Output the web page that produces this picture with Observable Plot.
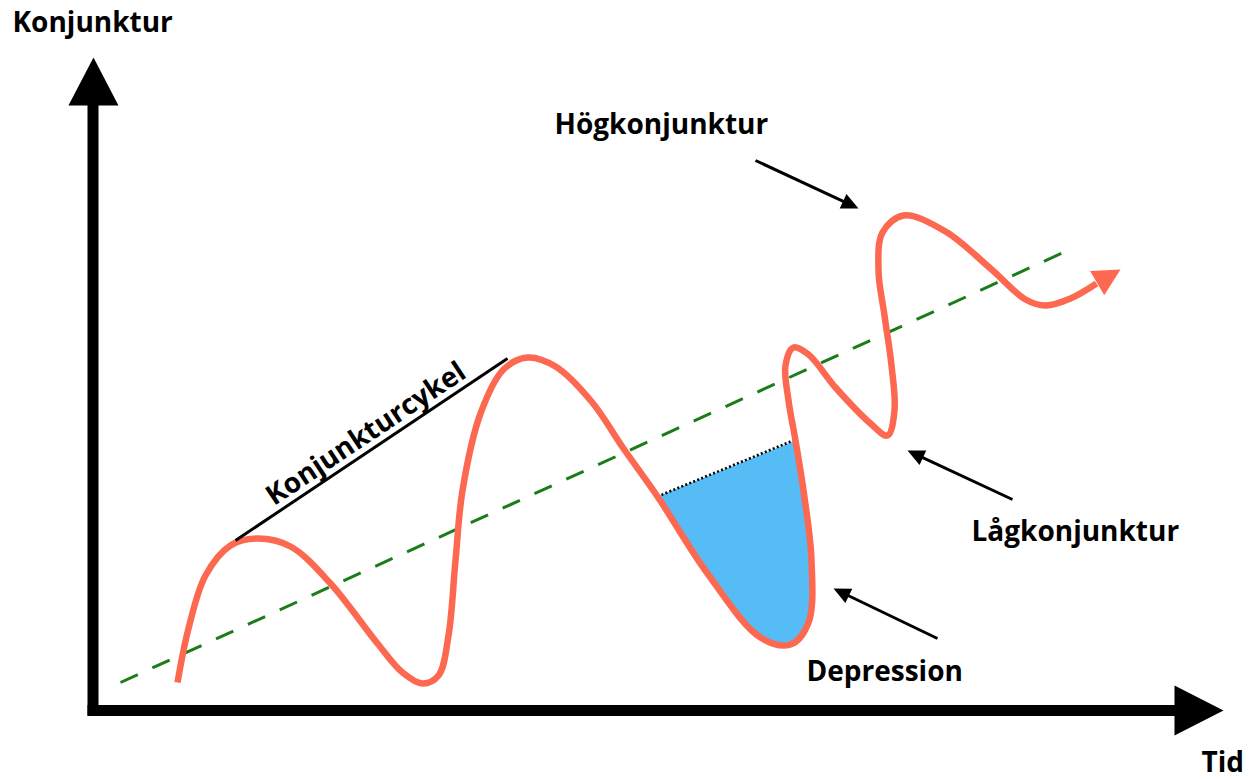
<!DOCTYPE html>
<html><head><meta charset="utf-8">
<script src="https://cdn.jsdelivr.net/npm/d3@7"></script>
<script src="https://cdn.jsdelivr.net/npm/@observablehq/plot@0.6"></script>
<style>html,body{margin:0;padding:0;background:#fff;}</style>
</head><body><div id="chart"></div>
<script>
// Business-cycle curve (diagram units: x to the right, y downward)
const curveX = [177,188,205,230,257,290,330,377,402,422,438,448,455,462,480,503,527,555,591,623,657,707,760,790,808,811,803,795,788,785,793,808,835,870,887,894,891,884,878,882,903,945,990,1025,1045,1070,1096];
const curveY = [682,628,575,545,538,546,583,643,672,683,675,635,560,490,413,369,357,366,401,448,496,573,637,644,622,560,490,440,400,365,347,354,387,423,435,410,365,315,270,232,215,231,268,299,305,298,283];
const curveTip = [1120,269];
// Depression region (part of the curve)
const depressionX = [657,707,760,790,808,811,803,795];
const depressionY = [496,573,637,644,622,560,490,440];
// Trend line
const trendX = [120,1065];
const trendY = [682,251];
// Cycle bracket line and dotted line
const cycleX = [235,507];
const cycleY = [540,358];
const dotX = [657,795];
const dotY = [496,439];
// Axes
const yAxisX = [92.5,92.5], yAxisY = [715,100], yAxisTip = [93,57];
const xAxisX = [87,1178], xAxisY = [710,710], xAxisTip = [1223,710];
// Labels
const labels = ["Konjunktur","Tid","Högkonjunktur","Lågkonjunktur","Depression"];
const labelX = [12,1201,554,971,806];
const labelY = [23,763,125,532,672];
const cycleLabel = "Konjunkturcykel";
// Annotation arrows
const arrowFromX = [755,1012,937], arrowFromY = [160,499,638];
const arrowToX = [858,907,833], arrowToY = [208,450,588];

const RED = "#fd6850", BLUE = "#56bcf6", GREEN = "#1a7d1a";
const FONT = "Open Sans";
const FS = 28;

function tri(id, tx, ty, fx, fy, len, hw) {
  const dx = tx - fx, dy = ty - fy, d = Math.hypot(dx, dy), ux = dx / d, uy = dy / d;
  const bx = tx - ux * len, by = ty - uy * len;
  return [{id, x: tx, y: ty}, {id, x: bx - uy * hw, y: by + ux * hw}, {id, x: bx + uy * hw, y: by - ux * hw}];
}
const pts = (X, Y) => X.map((x, i) => ({x, y: Y[i]}));

const curve = pts(curveX, curveY);
const last = curve[curve.length - 1];
const heads = [
  ...tri("ya", yAxisTip[0], yAxisTip[1], yAxisX[0], yAxisY[0], 48, 25),
  ...tri("xa", xAxisTip[0], xAxisTip[1], xAxisX[0], xAxisY[0], 49, 25),
  ...tri("red", curveTip[0], curveTip[1], last.x, last.y, 27, 14),
  ...arrowToX.flatMap((x, i) => tri("a" + i, x, arrowToY[i], arrowFromX[i], arrowFromY[i], 17, 8))
];
const shafts = arrowToX.map((x, i) => {
  const dx = x - arrowFromX[i], dy = arrowToY[i] - arrowFromY[i], d = Math.hypot(dx, dy);
  return {x1: arrowFromX[i], y1: arrowFromY[i], x2: x - dx / d * 15, y2: arrowToY[i] - dy / d * 15};
});
// rotated label along the cycle line
const ang = Math.atan2(cycleY[1] - cycleY[0], cycleX[1] - cycleX[0]);
const mx = (cycleX[0] + cycleX[1]) / 2, my = (cycleY[0] + cycleY[1]) / 2;
const off = 16, along = 4;
const cyc = [{x: mx + Math.sin(ang) * off + Math.cos(ang) * along, y: my - Math.cos(ang) * off + Math.sin(ang) * along, t: cycleLabel}];

const chart = Plot.plot({
  width: 1249, height: 779, margin: 0,
  x: {domain: [0, 1249], axis: null},
  y: {domain: [0, 779], reverse: true, axis: null},
  style: {background: "#fff", overflow: "visible"},
  marks: [
    Plot.line(pts(depressionX, depressionY), {x: "x", y: "y", fill: BLUE, stroke: "none", curve: "catmull-rom"}),
    Plot.line(pts(dotX, dotY), {x: "x", y: "y", stroke: "#000", strokeWidth: 2.6, strokeDasharray: "2,2.3", strokeLinecap: "butt"}),
    Plot.line(pts(trendX, trendY), {x: "x", y: "y", stroke: GREEN, strokeWidth: 3, strokeDasharray: "19,16", strokeLinecap: "butt"}),
    Plot.line(curve, {x: "x", y: "y", stroke: RED, strokeWidth: 6.5, curve: "catmull-rom", strokeLinecap: "butt"}),
    Plot.line(pts(cycleX, cycleY), {x: "x", y: "y", stroke: "#000", strokeWidth: 3, strokeLinecap: "butt"}),
    Plot.link(shafts, {x1: "x1", y1: "y1", x2: "x2", y2: "y2", stroke: "#000", strokeWidth: 3}),
    Plot.line(pts(yAxisX, yAxisY), {x: "x", y: "y", stroke: "#000", strokeWidth: 11, strokeLinecap: "butt"}),
    Plot.line(pts(xAxisX, xAxisY), {x: "x", y: "y", stroke: "#000", strokeWidth: 11, strokeLinecap: "butt"}),
    Plot.line(heads, {x: "x", y: "y", z: "id", fill: d => d.id === "red" ? RED : "#000", stroke: "none", curve: "linear-closed"}),
    Plot.text(labels, {x: (d, i) => labelX[i], y: (d, i) => labelY[i], text: d => d, textAnchor: "start", lineAnchor: "middle", fontSize: FS, fontWeight: 700, fontFamily: FONT, fill: "#000"}),
    Plot.text(cyc, {x: "x", y: "y", text: "t", rotate: ang * 180 / Math.PI, textAnchor: "middle", lineAnchor: "middle", fontSize: FS, fontWeight: 700, fontFamily: FONT, fill: "#000"})
  ]
});
document.getElementById("chart").appendChild(chart);
</script>
</body></html>
